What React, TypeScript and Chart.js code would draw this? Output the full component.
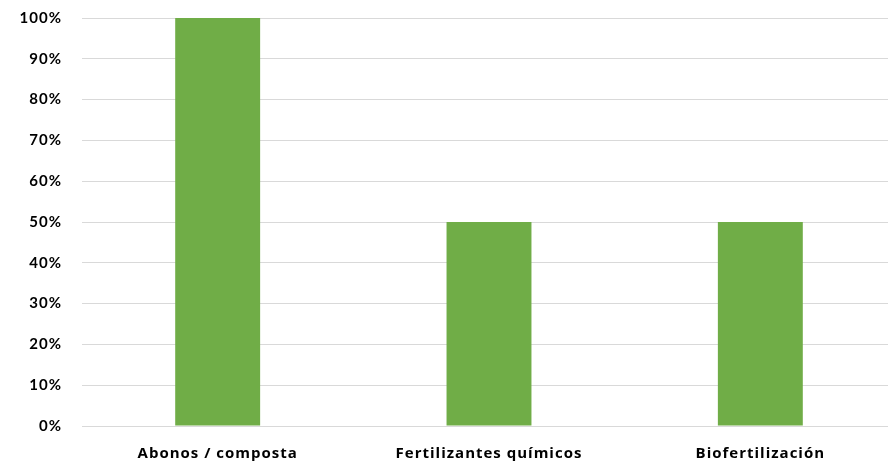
import React, { useEffect, useRef } from "react";
import { Chart, registerables } from "chart.js";

Chart.register(...registerables);

const categories = ["Abonos / composta", "Fertilizantes químicos", "Biofertilización"];
const values = [100, 50, 50];
const yTicks = [0, 10, 20, 30, 40, 50, 60, 70, 80, 90, 100];

const spacingPlugin = {
  id: "spacing",
  beforeDraw: (chart: any) => {
    try {
      chart.ctx.letterSpacing = "1px";
    } catch (e) {}
  },
};

export default function App() {
  const ref = useRef<HTMLCanvasElement | null>(null);
  useEffect(() => {
    if (!ref.current) return;
    const yFont = { family: "Lato, 'Open Sans', sans-serif", size: 15, weight: "bold" as const };
    const xFont = { family: "'Open Sans', Lato, sans-serif", size: 15, weight: "bold" as const };
    const chart = new Chart(ref.current, {
      type: "bar",
      data: {
        labels: categories,
        datasets: [
          {
            data: values,
            backgroundColor: "#70AD47",
            borderWidth: 0,
            categoryPercentage: 1,
            barPercentage: 0.313,
          },
        ],
      },
      options: {
        animation: false,
        responsive: false,
        maintainAspectRatio: false,
        layout: { padding: { top: 18, right: 4, left: 0, bottom: 0 } },
        plugins: { legend: { display: false }, tooltip: { enabled: false } },
        scales: {
          x: {
            grid: { display: false, drawTicks: false },
            border: { display: false },
            ticks: { color: "#000", font: xFont, padding: 19, maxRotation: 0 },
            afterFit: (s: any) => {
              s.height = 38;
              s.paddingLeft = 0;
              s.paddingRight = 0;
            },
          },
          y: {
            min: 0,
            max: 100,
            afterBuildTicks: (s: any) => {
              s.ticks = yTicks.map((v) => ({ value: v }));
            },
            grid: { color: "#d9d9d9", lineWidth: 1, drawTicks: false },
            border: { display: false },
            ticks: {
              color: "#000",
              font: yFont,
              padding: 20,
              callback: (v: any) => v + "%",
            },
            afterFit: (s: any) => {
              s.width = 82;
              s.paddingTop = 0;
              s.paddingBottom = 0;
            },
          },
        },
      },
      plugins: [spacingPlugin],
    });
    return () => chart.destroy();
  }, []);
  return (
    <div style={{ position: "fixed", left: 0, top: 0, width: 888, height: 464, overflow: "hidden", background: "#fff" }}>
      <canvas ref={ref} width={900} height={464} style={{ display: "block", width: 900, height: 464 }} />
    </div>
  );
}
